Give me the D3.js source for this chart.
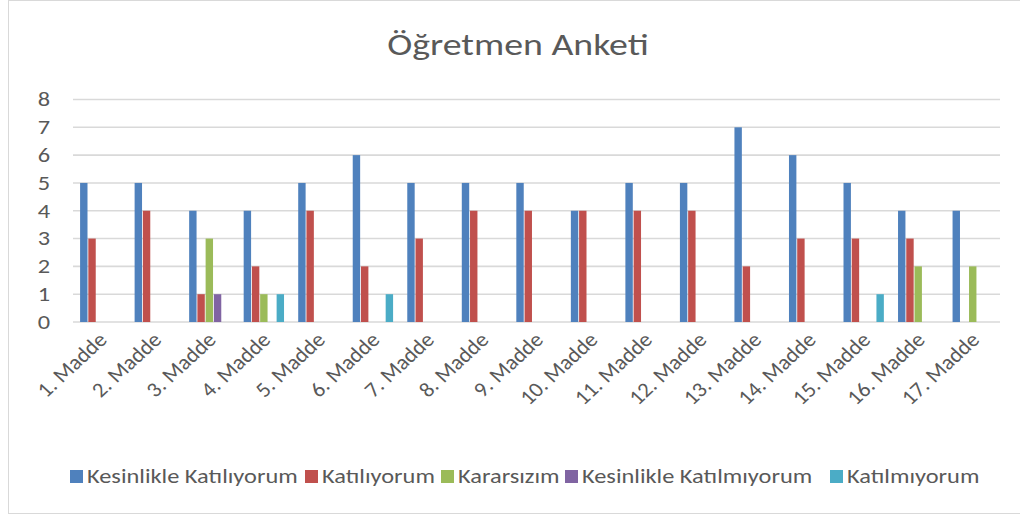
<!DOCTYPE html>
<html><head><meta charset="utf-8">
<script src="https://cdn.jsdelivr.net/npm/d3@7"></script>
<style>body{margin:0;background:#fff}svg{display:block}text{font-family:Carlito,"Open Sans","Noto Sans",sans-serif;fill:#595959}</style>
</head><body>
<svg id="c" width="1020" height="515"></svg>
<script>
const categories = ["1. Madde","2. Madde","3. Madde","4. Madde","5. Madde","6. Madde","7. Madde","8. Madde","9. Madde","10. Madde","11. Madde","12. Madde","13. Madde","14. Madde","15. Madde","16. Madde","17. Madde"];
const seriesNames = ["Kesinlikle Katılıyorum","Katılıyorum","Kararsızım","Kesinlikle Katılmıyorum","Katılmıyorum"];
const seriesColors = ["#4f81bd","#c0504d","#9bbb59","#8064a2","#4bacc6"];
const kesinlikleKatiliyorum = [5,5,4,4,5,6,5,5,5,4,5,5,7,6,5,4,4];
const katiliyorum = [3,4,1,2,4,2,3,4,4,4,4,4,2,3,3,3,0];
const kararsizim = [0,0,3,1,0,0,0,0,0,0,0,0,0,0,0,2,2];
const kesinlikleKatilmiyorum = [0,0,1,0,0,0,0,0,0,0,0,0,0,0,0,0,0];
const katilmiyorum = [0,0,0,1,0,1,0,0,0,0,0,0,0,0,1,0,0];
const yTicks = [0,1,2,3,4,5,6,7,8];
const title = "Öğretmen Anketi";

const values = [kesinlikleKatiliyorum, katiliyorum, kararsizim, kesinlikleKatilmiyorum, katilmiyorum];
const SX = 1.22; // horizontal text stretch
const svg = d3.select("#c");
svg.append("rect").attr("x",8.5).attr("y",0.5).attr("width",1030).attr("height",513).attr("fill","#fff").attr("stroke","#d9d9d9");

const L=73, R=1000, T=99.5, B=322;
const x = d3.scaleBand().domain(categories).range([L,R]).paddingInner(0.26).paddingOuter(0.13);
const xs = d3.scaleBand().domain(d3.range(5)).range([0,x.bandwidth()]).paddingInner(0.1);
const y = d3.scaleLinear().domain([0,8]).range([B,T]);

svg.append("g").selectAll("line").data(yTicks).join("line")
 .attr("x1",L).attr("x2",R).attr("y1",d=>y(d)).attr("y2",d=>y(d))
 .attr("stroke","#d9d9d9").attr("stroke-width",1.6);

const yAxis = svg.append("g").attr("transform",`translate(${L},0)`)
 .call(d3.axisLeft(y).tickValues(yTicks).tickSize(0).tickPadding(0).tickFormat(d3.format("d")));
yAxis.select(".domain").remove();
yAxis.selectAll("text").style("font-size","20px").attr("fill","#595959")
 .attr("x",0).attr("transform",`translate(-23,0) scale(${SX},1)`);

const g = svg.append("g");
values.forEach((arr,si)=>{
  g.append("g").selectAll("rect").data(arr.map((v,i)=>({v,c:categories[i]}))).join("rect")
   .filter(d=>d.v>0)
   .attr("x",d=>x(d.c)+xs(si)).attr("width",xs.bandwidth())
   .attr("y",d=>y(d.v)).attr("height",d=>y(0)-y(d.v))
   .attr("fill",seriesColors[si]);
});

const xAxis = svg.append("g").attr("transform",`translate(0,${B})`)
 .call(d3.axisBottom(x).tickSize(0).tickPadding(0));
xAxis.select(".domain").remove();
xAxis.selectAll("text").style("font-size","21px").attr("fill","#595959")
 .attr("text-anchor","end").attr("dy","0").attr("y",0)
 .attr("transform",`translate(8,19) scale(1.08,1) rotate(-45)`);

svg.append("text").attr("transform",`translate(518,55) scale(${SX},1)`).attr("text-anchor","middle")
 .style("font-size","31px").text(title);

const legX = [70,305,441,565,830];
const lg = svg.append("g");
seriesNames.forEach((n,i)=>{
  lg.append("rect").attr("x",legX[i]).attr("y",470).attr("width",13).attr("height",13).attr("fill",seriesColors[i]);
  lg.append("text").attr("transform",`translate(${legX[i]+17},483) scale(${SX},1)`).style("font-size","20px").text(n);
});
</script>
</body></html>
